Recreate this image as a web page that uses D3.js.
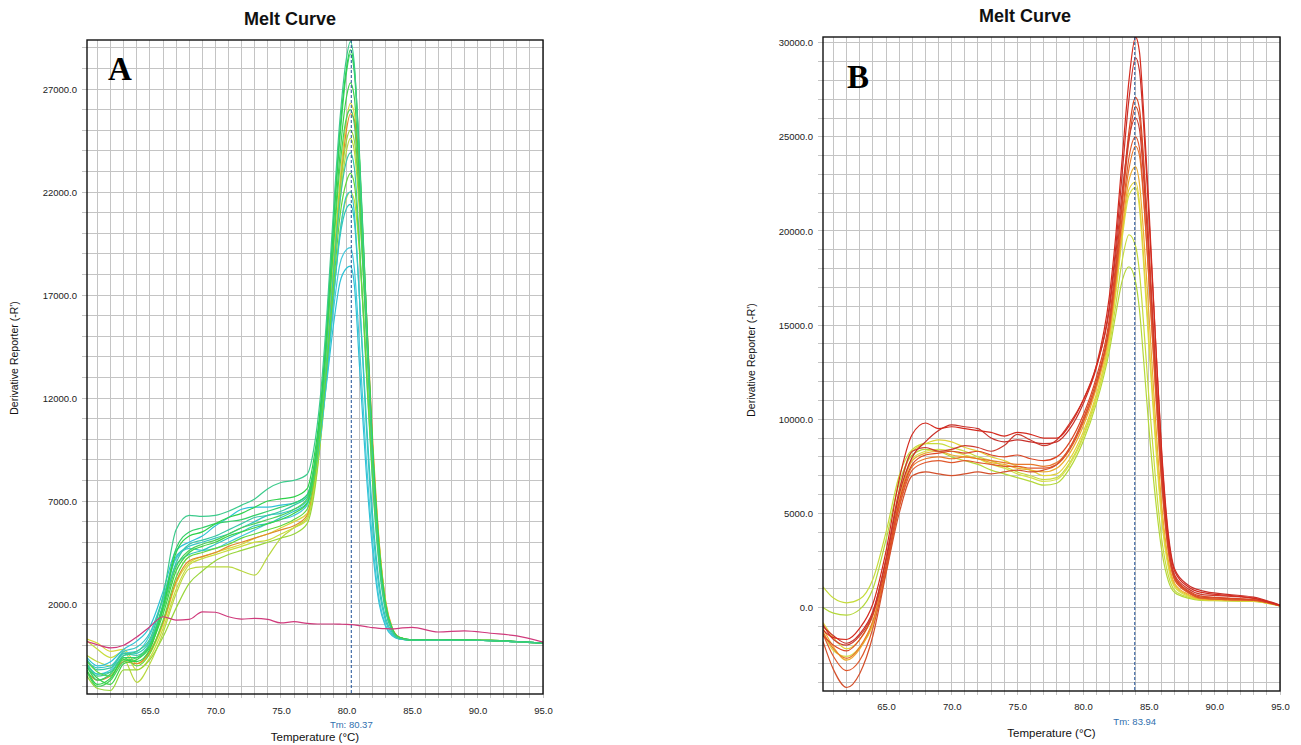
<!DOCTYPE html>
<html><head><meta charset="utf-8">
<script src="https://cdn.jsdelivr.net/npm/d3@7"></script>
<style>
body{margin:0;background:#fff}
svg{display:block}
</style>
</head><body>
<svg id="chart" width="1301" height="745"></svg>
<script>
// ---------------- DATA ----------------
const xTicks = [65, 70, 75, 80, 85, 90, 95];
const yTicksA = [2000, 7000, 12000, 17000, 22000, 27000];
const yTicksB = [0, 5000, 10000, 15000, 20000, 25000, 30000];
const tmA = 80.37;
const tmB = 83.94;
const titleText = "Melt Curve";
const xTitle = "Temperature (°C)";
const yTitle = "Derivative Reporter (-R')";

// Panel A temperatures (°C)
const tempsA = [60.2,61,62,63,64,65,66,67,68,69,70,71,72,73,74,75,76,77,77.5,78,78.5,79,79.5,80,80.3,80.6,81,81.5,82,82.5,83,83.5,84,85,87,89,91,93,95];

const a01 = [-900,-1500,-1300,-500,-300,300,2400,5600,6300,6250,6300,6500,6800,7100,7600,7900,8000,8300, 9500,12000,16000,21000,25500,28500,29300, 28200,23500,16000,9000,4200,1700,700,350, 250,230,240,220,170,100];
const a02 = [-1200,-1900,-1600,-700,-800,-200,1800,4500,5300,5500,5900,6200,6400,6700,7000,7100,7200,7600, 9000,11500,15500,20500,25000,28000,28900, 28000,23800,16500,9500,4500,1800,750,380, 260,240,250,230,180,100];
const a03 = [-600,-1000,-800,-200,200,900,2600,4600,5000,5300,5800,6200,6600,6700,6700,6800,6900,7300, 8400,10200,12800,15500,17600,18300,18400, 17500,13500,8500,4600,2000,900,450,300, 250,230,240,220,180,100];
const a04 = [-1000,-1400,-1200,-400,-300,500,2200,4200,4700,4600,4700,5000,5300,5600,5900,6100,6300,6800, 8000,10000,13000,16200,18500,19200,19300, 18300,14500,9200,5000,2200,950,480,320, 250,240,240,220,170,90];
const a05 = [300,100,-300,-200,-900,-400,1000,3000,4000,4300,4500,4700,4900,5200,5400,5700,6000,6400, 7800,10500,14000,18500,22500,25500,26300, 25800,22500,16000,9500,4800,2000,800,400, 260,240,250,230,180,90];
const a06 = [-1300,-1700,-1500,-800,-900,-300,1100,3100,4100,4300,4500,4800,5000,5200,5400,5600,5800,6300, 7600,10000,13500,18000,22000,25000,25800, 25500,22500,16500,10000,5000,2100,850,400, 260,240,250,230,180,100];
const a07 = [-500,-800,-1000,-700,-1800,-900,600,2500,3700,3800,3800,3800,3600,3400,4300,5200,5700,6200, 7500,10000,13500,17800,21500,24000,24600, 24000,21000,15500,9500,4800,2000,800,380, 250,240,250,230,170,90];
const a08 = [-1500,-2100,-2200,-1200,-1200,-700,400,1800,3000,3600,4100,4400,4600,4800,5000,5200,5400,5900, 7200,9800,13500,18000,22000,24500,25000, 24500,21500,15800,9600,4900,2050,800,380, 250,230,240,220,170,90];
const a09 = [-1100,-1600,-1900,-900,-700,-100,1500,3600,4500,4800,5000,5300,5500,5700,5900,6100,6400,6900, 8300,11000,14800,19500,23800,26600,27300, 26600,22500,15800,9300,4600,1900,780,380, 260,240,250,230,180,100];
const a10 = [-700,-1200,-1100,-400,-500,100,1900,4000,4900,5100,5300,5600,5900,6200,6300,6500,6800,7200, 8500,10800,14000,18000,21500,23500,23900, 23200,19500,13500,7800,3800,1600,700,350, 250,230,240,220,170,90];
const a11 = [-800,-1300,-1500,-600,-1000,-400,1200,3300,4300,4500,4700,4900,5200,5400,5600,5800,6100,6600, 7900,10300,13500,17300,20800,22500,22900, 22400,19200,13600,8000,4000,1700,720,360, 250,240,240,220,170,90];
const a12 = [-900,-1400,-1300,-500,-400,200,1900,3900,4400,4600,4900,5200,5500,5800,5900,6200,6500,6900, 8100,10300,13300,16800,19800,21200,21400, 20600,16800,11200,6300,3000,1300,600,330, 250,230,240,220,170,90];
const a13 = [200,-200,-600,-300,-1200,-600,800,2700,3900,4200,4400,4600,4800,5000,5100,5400,5700,6100, 7400,9800,13000,16800,20000,21700,22000, 21600,19000,14000,8600,4400,1850,760,370, 250,240,250,230,170,90];
const a14 = [-1000,-1700,-1400,-600,-600,0,2000,4700,5500,5700,5900,6000,6100,6300,6500,6700,6900,7300, 8600,11200,15200,20200,24600,27800,28700, 27800,23500,16500,9500,4600,1900,780,380, 260,240,250,230,180,100];
const a15 = [-1300,-2000,-1700,-800,-600,0,1700,3800,4600,4900,5100,5400,5700,5900,6100,6300,6600,7100, 8500,11200,14800,19200,23200,25600,26000, 25300,21500,15200,9000,4500,1850,760,370, 250,230,240,220,170,90];
const a16 = [-800,-1100,-1000,-300,-100,600,2300,4300,4800,5000,5200,5400,5700,6000,6300,6400,6600,7000, 8200,10200,13200,16800,20000,21800,22000, 21000,16800,10800,5800,2700,1150,520,300, 250,230,240,220,170,90];
const aPink = [170,20,-130,0,400,900,1380,1220,1250,1620,1600,1380,1270,1300,1250,1080,1140,1060, 1040,1030,1030,1030,1020,1010,1000, 990,950,900,850,820,800,790,820, 870,640,700,580,450,150];

const seriesA = [a05,a06,a07,a13,a08,a03,a04,a12,a16,a10,a11,a15,a09,a14,a02,a01,aPink];
const colorsA = ["#d9d63a","#e08a2a","#b9d840","#c8dc3a","#98d63a","#2ec2d6","#42c8da","#30c6bc","#36c6c4","#38c8a4","#62d83c","#4ad05a","#3cd448","#34d068","#2ed24a","#3ccb8c","#d03a7c"];

// Panel B temperatures (°C)
const tempsB = [60.2,61,62,63,64,65,66,67,68,69,70,71,72,73,74,75,76,77,78,79,80,81,82,82.5,83,83.5,84,84.3,84.6,85,85.5,86,86.5,87,88,89,91,93,95];

const b01 = [-1200,-1600,-1700,-1100,200,3000,6800,9200,9800,9500,9600,9500,9400,9300,9100,9300,9200,9000,9000, 9700,11000,12800,16500, 19800,24000,28000,30300, 29500,26500,21500,14500,8000,3700,1900, 1100,800,650,500,120];
const b02 = [-1000,-1500,-1900,-1400,-200,2500,6000,8000,8800,9400,9700,9600,9500,9000,8800,8900,8800,8700,8800, 9500,10800,12700,16000, 19200,23200,27000,29200, 28500,25800,21000,14500,8200,3900,2000, 1200,900,700,550,130];
const b03 = [-1500,-2000,-2300,-1700,-400,2200,5600,7600,8100,8200,8300,8200,8300,8100,8000,8100,7900,7800,8000, 8800,10200,12200,15300, 18300,21800,25300,27100, 26500,24000,19500,13000,7200,3300,1600, 900,600,500,420,100];
const b04 = [-1800,-3300,-4250,-3500,-1500,1800,5000,7000,7200,7100,7000,7100,7200,7100,7200,7300,7200,7300,7600, 8500,10000,12000,15000, 18000,21500,24800,26600, 26000,23500,19000,12800,7000,3200,1550, 850,550,480,400,100];
const b05 = [-1300,-2200,-2700,-2100,-700,2000,5400,7500,7900,8000,7900,8000,7900,7800,7700,7600,7600,7500,7700, 8500,9900,11800,14700, 17400,20700,23300,24500, 24000,21800,17600,11800,6500,3000,1450, 800,500,420,380,100];
const b06 = [-900,-1700,-2000,-1500,-300,2600,6200,8300,8500,8300,8400,8600,8500,8300,8600,9200,8900,8600,8900, 9800,11000,12800,15800, 18800,22200,24900,26000, 25400,23000,18800,12800,7100,3300,1700, 1000,700,600,480,110];
const b07 = [-1400,-2600,-3350,-2800,-1100,1900,5300,7300,7700,7800,7700,7800,7700,7600,7500,7500,7400,7400,7600, 8400,9800,11800,14900, 17700,20900,23900,25000, 24400,22000,17700,11900,6600,3000,1450, 800,500,420,380,90];
const b08 = [-1100,-2100,-2800,-2200,-800,2200,5700,7800,8200,8300,8100,8000,7900,7700,7600,7400,7300,7200,7400, 8200,9600,11600,14500, 17200,20200,22700,23400, 22500,20000,15800,10200,5400,2500,1250, 700,450,400,360,90];
const b09 = [-800,-1600,-2200,-1700,-400,2600,6200,8300,8700,8900,8800,8500,8300,8000,7800,7500,7300,7000,7100, 7900,9300,11300,14300, 16900,19900,22200,22600, 21500,18800,14500,9300,4900,2300,1150, 650,430,380,350,90];
const b10 = [1100,500,250,450,1500,4000,7000,8400,8700,8700,8500,8300,8000,7800,7500,7200,7000,6800,6900, 7700,9100,11100,13900, 16100,18500,19800,19200, 17800,15200,11300,7000,3600,1700,900, 550,400,360,330,80];
const b11 = [0,-300,-400,-100,1000,3600,6600,8100,8400,8300,8000,7800,7600,7300,7100,6900,6700,6500,6600, 7400,8800,10800,13600, 15600,17400,18100,17300, 15800,13300,9700,5900,3000,1400,780, 500,380,350,320,80];
const b12 = [-1300,-2300,-2600,-2100,-900,2100,5800,7900,8300,8400,8300,8100,7900,7600,7400,7100,6900,6700,6800, 7600,9000,11000,14100, 16700,19700,21900,22300, 21200,18400,14000,8900,4600,2100,1050, 600,420,370,340,90];

const seriesB = [b11,b10,b12,b09,b08,b05,b07,b04,b03,b06,b02,b01];
const colorsB = ["#b4d83a","#c6dc3c","#d6e04a","#e2d23a","#ecac30","#e8782c","#e0582c","#d4502c","#dc4624","#cc3a2e","#c8302a","#d42a1e"];

// ---------------- DRAWING ----------------
const svg = d3.select("#chart");
const sans = "'Liberation Sans', Arial, sans-serif";

function panel(o) {
  const x = d3.scaleLinear().domain([60.2, 95]).range([o.left, o.right]);
  const y = d3.scaleLinear().domain(o.yDom).range([o.bottom, o.top]);
  const g = svg.append("g");

  // grid (every 1 °C / every 1000)
  const gx = d3.range(61, 96);
  const gy = d3.range(o.gridStart, o.yDom[1], 1000);
  g.append("g").selectAll("line").data(gx).join("line")
    .attr("x1", d => x(d)).attr("x2", d => x(d))
    .attr("y1", o.top).attr("y2", o.bottom + 4)
    .attr("stroke", "#c4c4c4").attr("stroke-width", 1).attr("shape-rendering", "crispEdges");
  g.append("g").selectAll("line").data(gy).join("line")
    .attr("x1", o.left - 5).attr("x2", o.right)
    .attr("y1", d => y(d)).attr("y2", d => y(d))
    .attr("stroke", "#c4c4c4").attr("stroke-width", 1).attr("shape-rendering", "crispEdges");

  // clip
  const cid = "clip" + o.id;
  svg.append("clipPath").attr("id", cid).append("rect")
    .attr("x", o.left).attr("y", o.top).attr("width", o.right - o.left).attr("height", o.bottom - o.top);

  const line = d3.line().x((d, i) => x(o.temps[i])).y(d => y(d)).curve(d3.curveMonotoneX);
  g.append("g").attr("clip-path", `url(#${cid})`).selectAll("path").data(o.series).join("path")
    .attr("d", d => line(d)).attr("fill", "none")
    .attr("stroke", (d, i) => o.colors[i]).attr("stroke-width", 1.2);

  // Tm line
  g.append("line").attr("x1", x(o.tm)).attr("x2", x(o.tm)).attr("y1", o.top).attr("y2", o.bottom)
    .attr("stroke", "#1d4f96").attr("stroke-width", 1).attr("stroke-dasharray", "3,2");

  // frame
  g.append("rect").attr("x", o.left).attr("y", o.top)
    .attr("width", o.right - o.left).attr("height", o.bottom - o.top)
    .attr("fill", "none").attr("stroke", "#111").attr("stroke-width", 1.4);

  // axes (labels)
  const ax = d3.axisBottom(x).tickValues(xTicks).tickFormat(d3.format(".1f")).tickSize(0).tickPadding(o.xPad);
  const gxA = g.append("g").attr("transform", `translate(0,${o.bottom})`).call(ax);
  gxA.select(".domain").remove();
  gxA.attr("font-family", sans).attr("font-size", 9.5).attr("color", "#222");

  const ay = d3.axisLeft(y).tickValues(o.yTicks).tickFormat(d3.format(".1f")).tickSize(0).tickPadding(10);
  const gyA = g.append("g").attr("transform", `translate(${o.left},0)`).call(ay);
  gyA.select(".domain").remove();
  gyA.attr("font-family", sans).attr("font-size", 9.5).attr("color", "#222");

  // Tm label
  g.append("text").attr("x", x(o.tm)).attr("y", o.tmY).attr("text-anchor", "middle")
    .attr("font-family", sans).attr("font-size", 9.5).attr("fill", "#2f6fae")
    .text("Tm: " + o.tm.toFixed(2));

  // titles
  g.append("text").attr("x", o.titleX).attr("y", o.titleY).attr("text-anchor", "middle")
    .attr("font-family", sans).attr("font-weight", "bold").attr("font-size", 18).attr("fill", "#111")
    .text(titleText);
  g.append("text").attr("x", (o.left + o.right) / 2).attr("y", o.xTitleY).attr("text-anchor", "middle")
    .attr("font-family", sans).attr("font-size", 11.5).attr("fill", "#111").text(xTitle);
  g.append("text").attr("transform", `translate(${o.yTitleX},${o.yTitleY}) rotate(-90)`)
    .attr("text-anchor", "middle").attr("font-family", sans).attr("font-size", 10.5).attr("fill", "#111")
    .text(yTitle);

  // panel letter
  g.append("text").attr("x", o.letterX).attr("y", o.letterY)
    .attr("font-family", "'Liberation Serif', 'Times New Roman', serif").attr("font-weight", "bold")
    .attr("font-size", 33).attr("fill", "#000").text(o.letter);
}

panel({
  id: "A", left: 87, right: 543, top: 40, bottom: 694,
  yDom: [-2369, 29379], gridStart: -2000, yTicks: yTicksA,
  temps: tempsA, series: seriesA, colors: colorsA, tm: tmA,
  xPad: 13.5, tmY: 727.5, xTitleY: 741,
  titleX: 290, titleY: 25, yTitleX: 18, yTitleY: 358,
  letter: "A", letterX: 108, letterY: 80
});
panel({
  id: "B", left: 823, right: 1280, top: 37, bottom: 691,
  yDom: [-4435, 30303], gridStart: -4000, yTicks: yTicksB,
  temps: tempsB, series: seriesB, colors: colorsB, tm: tmB,
  xPad: 12.5, tmY: 724.5, xTitleY: 737,
  titleX: 1025, titleY: 22, yTitleX: 755, yTitleY: 360,
  letter: "B", letterX: 847, letterY: 88
});
</script>
</body></html>
